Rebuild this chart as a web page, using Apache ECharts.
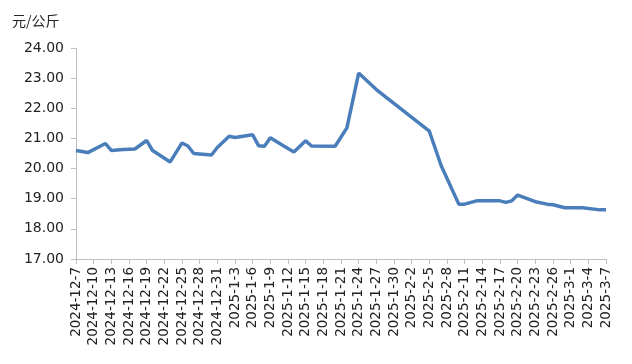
<!DOCTYPE html>
<html>
<head>
<meta charset="utf-8">
<script src="https://cdn.jsdelivr.net/npm/echarts@6/dist/echarts.min.js"></script>
<style>html,body{margin:0;padding:0;background:#fff}#c{width:632px;height:364px}</style>
</head>
<body>
<div id="c"></div>
<script>
var yAxisName = '元/公斤';
var categories = [
'2024-12-7','2024-12-8','2024-12-9','2024-12-10','2024-12-11','2024-12-12','2024-12-13','2024-12-14','2024-12-15','2024-12-16',
'2024-12-17','2024-12-18','2024-12-19','2024-12-20','2024-12-21','2024-12-22','2024-12-23','2024-12-24','2024-12-25','2024-12-26',
'2024-12-27','2024-12-28','2024-12-29','2024-12-30','2024-12-31','2025-1-1','2025-1-2','2025-1-3','2025-1-4','2025-1-5',
'2025-1-6','2025-1-7','2025-1-8','2025-1-9','2025-1-10','2025-1-11','2025-1-12','2025-1-13','2025-1-14','2025-1-15',
'2025-1-16','2025-1-17','2025-1-18','2025-1-19','2025-1-20','2025-1-21','2025-1-22','2025-1-23','2025-1-24','2025-1-25',
'2025-1-26','2025-1-27','2025-1-28','2025-1-29','2025-1-30','2025-1-31','2025-2-1','2025-2-2','2025-2-3','2025-2-4',
'2025-2-5','2025-2-6','2025-2-7','2025-2-8','2025-2-9','2025-2-10','2025-2-11','2025-2-12','2025-2-13','2025-2-14',
'2025-2-15','2025-2-16','2025-2-17','2025-2-18','2025-2-19','2025-2-20','2025-2-21','2025-2-22','2025-2-23','2025-2-24',
'2025-2-25','2025-2-26','2025-2-27','2025-2-28','2025-3-1','2025-3-2','2025-3-3','2025-3-4','2025-3-5','2025-3-6',
'2025-3-7'
];
var prices = [
20.60,null,20.53,null,null,20.83,20.60,null,20.63,null,
20.65,null,20.93,20.60,null,null,20.22,null,20.85,20.75,
20.50,null,null,20.45,20.70,null,21.07,21.03,null,null,
21.12,20.76,20.74,21.02,null,20.78,null,20.55,null,20.92,
20.75,null,null,null,20.74,null,21.35,null,23.17,null,
null,22.62,null,null,null,null,null,null,null,null,
21.24,null,20.10,null,null,18.82,18.82,null,18.93,null,
null,null,18.93,18.88,18.93,19.12,null,null,18.90,null,
18.82,18.80,null,18.70,null,null,18.70,null,null,18.63,
18.63
];
var yMin = 17, yMax = 24, yStep = 1;

var chart = echarts.init(document.getElementById('c'));
chart.setOption({
  animation: false,
  title: {
    text: yAxisName, left: 7, top: 9,
    textStyle: {fontSize: 14, fontWeight: 'normal', color: '#262626', fontFamily: 'Noto Sans CJK SC'}
  },
  grid: {left: 76, right: 26, top: 48, bottom: 105},
  xAxis: {
    type: 'category',
    data: categories,
    boundaryGap: false,
    axisLine: {lineStyle: {color: '#bfbfbf', width: 1}},
    axisTick: {interval: 2, length: 5, lineStyle: {color: '#bfbfbf'}},
    axisLabel: {interval: 2, rotate: 90, fontSize: 13.5, color: '#222', margin: 8, fontFamily: 'DejaVu Sans'}
  },
  yAxis: {
    type: 'value',
    min: yMin, max: yMax, interval: yStep,
    splitLine: {show: false},
    axisLine: {show: true, lineStyle: {color: '#bfbfbf', width: 1}},
    axisTick: {show: true, length: 5, lineStyle: {color: '#bfbfbf'}},
    axisLabel: {formatter: function(v){return v.toFixed(2);}, fontSize: 14, color: '#222', margin: 12, fontFamily: 'DejaVu Sans'}
  },
  series: [{
    type: 'line',
    data: prices,
    connectNulls: true,
    showSymbol: false,
    symbol: 'none',
    lineStyle: {color: '#4a7ebb', width: 3.5},
    itemStyle: {color: '#4a7ebb'}
  }]
});
</script>
</body>
</html>
